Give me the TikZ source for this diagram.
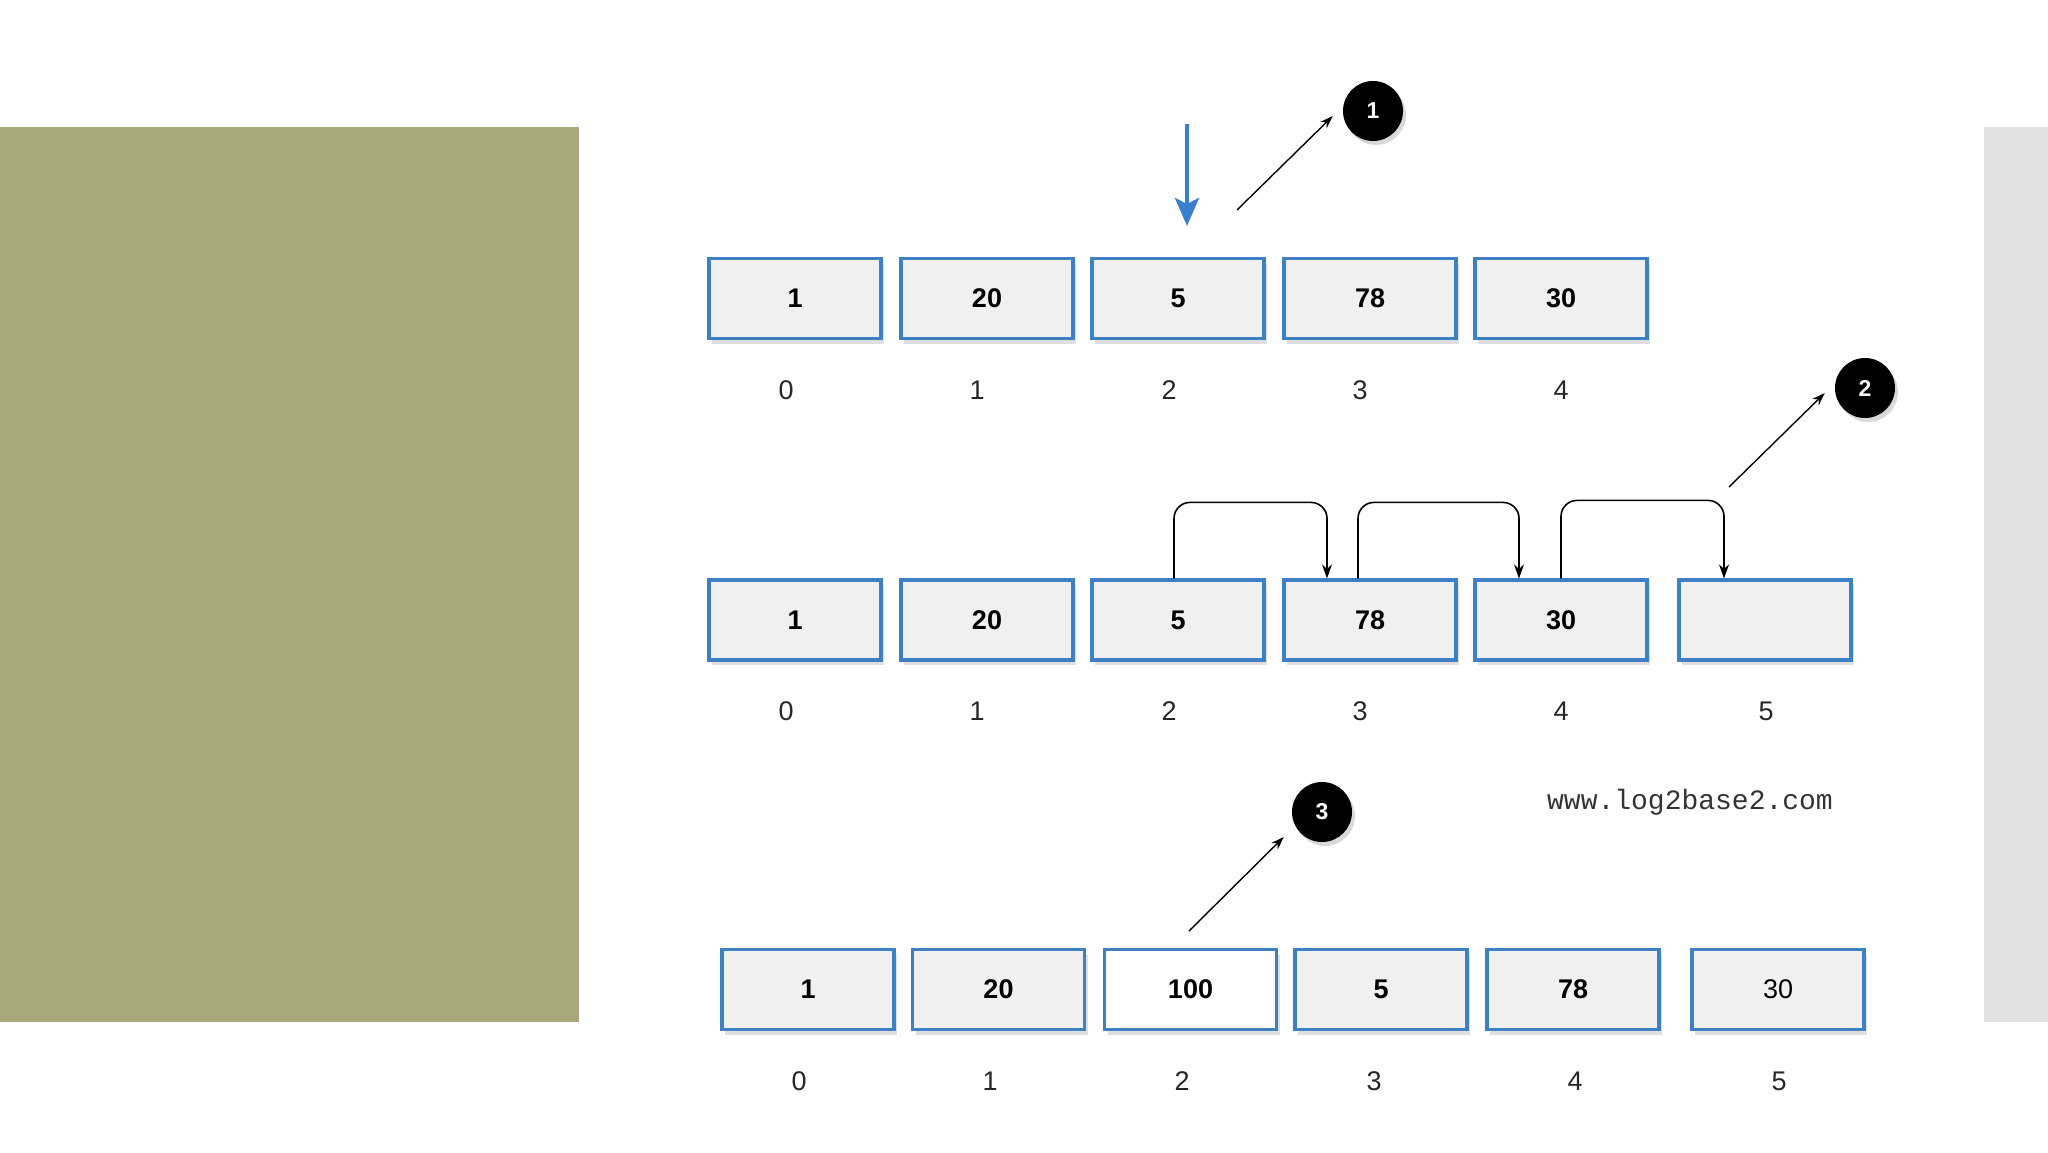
\documentclass[tikz,border=0pt]{standalone}
\usepackage{fontspec}
\setmainfont{Liberation Sans}
\newfontfamily\monof{Liberation Mono}
\usetikzlibrary{arrows.meta,shadows}
\definecolor{olivebg}{HTML}{A9A77E}
\definecolor{sidegray}{HTML}{E1E1E1}
\definecolor{boxblue}{HTML}{3D80C4}
\definecolor{cellgray}{HTML}{F0F0F0}
\definecolor{arrowblue}{HTML}{3A7FCC}
\tikzset{
  cell/.style={draw=boxblue, line width=3.2pt, fill=cellgray, minimum width=172pt, minimum height=80pt,
    inner sep=0pt, font=\bfseries\fontsize{27}{30}\selectfont,
    drop shadow={opacity=0.25, shadow xshift=3pt, shadow yshift=-5pt}},
  whitecell/.style={cell, fill=white},
  idx/.style={font=\fontsize{27}{30}\selectfont, text=black!85},
  badge/.style={circle, fill=black, minimum size=60pt, inner sep=0pt, text=white,
    font=\bfseries\fontsize{23}{25}\selectfont,
    drop shadow={opacity=0.3, shadow xshift=3pt, shadow yshift=-4pt}},
  conn/.style={line width=1.6pt, -{Stealth[length=14pt,width=10pt]}, rounded corners=16pt},
  pointer/.style={line width=1.4pt, -{Stealth[length=13pt,width=9pt]}},
  bluearrow/.style={draw=arrowblue, line width=4.5pt, -{Stealth[length=28pt,width=24pt,inset=6pt]}}
}
\begin{document}
\begin{tikzpicture}[x=1pt,y=-1pt]
\useasboundingbox (0,0) rectangle (2048,1152);
% side panels
\fill[olivebg] (0,127) rectangle (579,1022);
\fill[sidegray] (1984,127) rectangle (2048,1022);

% ---------- row 1 ----------
\node[cell] (a0) at (795,298.5) {1};
\node[cell] (a1) at (987,298.5) {20};
\node[cell] (a2) at (1178,298.5) {5};
\node[cell] (a3) at (1370,298.5) {78};
\node[cell] (a4) at (1561,298.5) {30};
\node[idx] (ia0) at (786,390) {0};
\node[idx] (ia1) at (977,390) {1};
\node[idx] (ia2) at (1169,390) {2};
\node[idx] (ia3) at (1360,390) {3};
\node[idx] (ia4) at (1561,390) {4};

\coordinate (bt) at (1187,124);
\coordinate (bb) at (1187,226);
\draw[bluearrow] (bt) -- (bb);

\node[badge] (n1) at (1373,111) {1};
\coordinate (p1) at (1237,210);
\draw[pointer] (p1) -- ([shift={(-10,5)}]n1.west);

% ---------- row 2 ----------
\node[cell] (b0) at (795,620) {1};
\node[cell] (b1) at (987,620) {20};
\node[cell] (b2) at (1178,620) {5};
\node[cell] (b3) at (1370,620) {78};
\node[cell] (b4) at (1561,620) {30};
\node[cell] (b5) at (1765,620) {};
\node[idx] (ib0) at (786,711) {0};
\node[idx] (ib1) at (977,711) {1};
\node[idx] (ib2) at (1169,711) {2};
\node[idx] (ib3) at (1360,711) {3};
\node[idx] (ib4) at (1561,711) {4};
\node[idx] (ib5) at (1766,711) {5};

\draw[conn] ([xshift=-4pt]b2.north) -- ++(0,-76) -| ([xshift=-43pt]b3.north);
\draw[conn] ([xshift=-12pt]b3.north) -- ++(0,-76) -| ([xshift=-42pt]b4.north);
\draw[conn] (b4.north) -- ++(0,-78) -| ([xshift=-41pt]b5.north);

\node[badge] (n2) at (1865,388) {2};
\coordinate (p2) at (1729,487);
\draw[pointer] (p2) -- ([shift={(-10,5)}]n2.west);

% ---------- row 3 ----------
\node[cell] (c0) at (808,989.5) {1};
\node[cell] (c1) at (998.5,989.5) {20};
\node[whitecell] (c2) at (1190.5,989.5) {100};
\node[cell] (c3) at (1381,989.5) {5};
\node[cell] (c4) at (1573,989.5) {78};
\node[cell, font=\fontsize{27}{30}\selectfont] (c5) at (1778,989.5) {30};
\node[idx] (ic0) at (799,1081) {0};
\node[idx] (ic1) at (990,1081) {1};
\node[idx] (ic2) at (1182,1081) {2};
\node[idx] (ic3) at (1374,1081) {3};
\node[idx] (ic4) at (1575,1081) {4};
\node[idx] (ic5) at (1779,1081) {5};

\node[badge] (n3) at (1322,812) {3};
\coordinate (p3) at (1189,931);
\draw[pointer] (p3) -- ([shift={(-8,25)}]n3.west);

\node[font=\monof\fontsize{28}{30}\selectfont, text=black!80] (web) at (1690,802) {www.log2base2.com};
\end{tikzpicture}
\end{document}
